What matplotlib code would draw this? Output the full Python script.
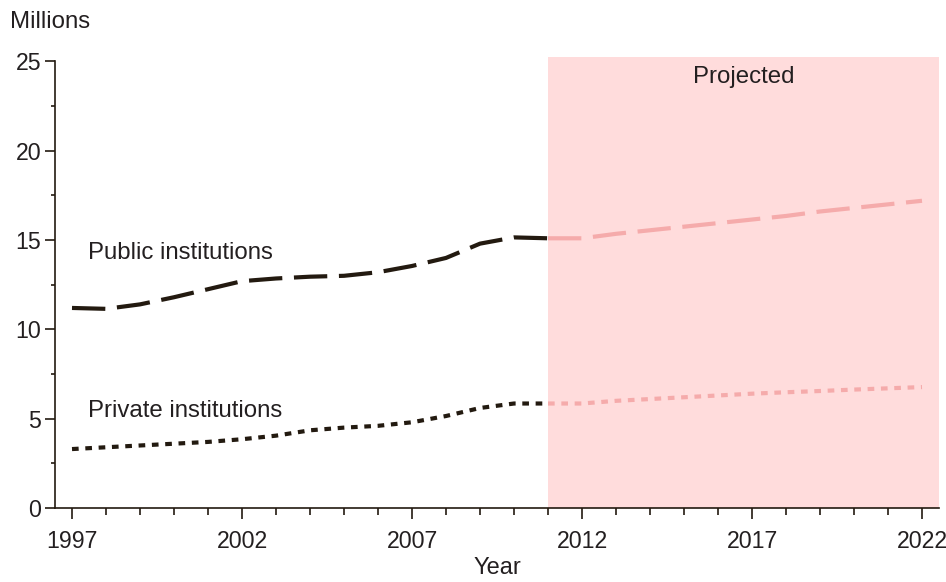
import matplotlib
matplotlib.use("Agg")
import matplotlib.pyplot as plt
from matplotlib.ticker import MultipleLocator, FixedLocator

plt.rcParams['font.family'] = ['Liberation Sans', 'DejaVu Sans']

years = list(range(1997, 2023))
public = [11.2, 11.15, 11.4, 11.8, 12.25, 12.7, 12.85, 12.95, 13.0, 13.2, 13.55, 14.0, 14.8, 15.15,
          15.1, 15.1, 15.35, 15.55, 15.75, 15.95, 16.15, 16.35, 16.6, 16.8, 17.0, 17.2]
private = [3.3, 3.4, 3.5, 3.6, 3.7, 3.85, 4.05, 4.35, 4.5, 4.6, 4.8, 5.15, 5.6, 5.85,
           5.85, 5.85, 6.0, 6.1, 6.2, 6.3, 6.4, 6.48, 6.55, 6.63, 6.7, 6.77]
proj_start = 2011
xtick_labels = [1997, 2002, 2007, 2012, 2017, 2022]

dark = '#231a10'
pink_line = '#f5abab'
pink_fill = '#ffdcdc'
text_c = '#231f20'

fig = plt.figure(figsize=(9.46, 5.82), dpi=100)
ax = fig.add_axes([55/946, (582-508)/582, (939-55)/946, (508-57)/582])

ax.set_xlim(1996.5, 2022.5)
ax.set_ylim(0, 25.25)

ax.axvspan(proj_start, 2022.5, color=pink_fill, lw=0, zorder=0)

i0 = years.index(proj_start)
hist_y = years[:i0 + 1]
proj_y = years[i0:]

lw = 3.0
dash = (8, 2.8)
dot = (1.6, 1.6)
ax.plot(hist_y, public[:i0 + 1], color=dark, lw=lw, dashes=dash, dash_capstyle='butt', zorder=3)
ax.plot(proj_y, public[i0:], color=pink_line, lw=lw, dashes=dash, dash_capstyle='butt', zorder=3)
ax.plot(hist_y, private[:i0 + 1], color=dark, lw=lw, dashes=dot, dash_capstyle='butt', zorder=3)
ax.plot(proj_y, private[i0:], color=pink_line, lw=lw, dashes=dot, dash_capstyle='butt', zorder=3)

for s in ['top', 'right']:
    ax.spines[s].set_visible(False)
for s in ['left', 'bottom']:
    ax.spines[s].set_color(dark)
    ax.spines[s].set_linewidth(1.2)
ax.spines['left'].set_bounds(0, 25)

ax.xaxis.set_major_locator(FixedLocator(xtick_labels))
ax.xaxis.set_minor_locator(MultipleLocator(1))
ax.set_xticklabels([str(v) for v in xtick_labels])
ax.yaxis.set_major_locator(MultipleLocator(5))
ax.yaxis.set_minor_locator(MultipleLocator(2.5))

ax.tick_params(axis='x', which='major', length=8, width=1.2, color=dark, pad=8, labelsize=16.7, labelcolor=text_c)
ax.tick_params(axis='x', which='minor', length=5, width=1.2, color=dark)
ax.tick_params(axis='y', which='major', length=7, width=1.2, color=dark, pad=3, labelsize=16.7, labelcolor=text_c)
ax.tick_params(axis='y', which='minor', length=3, width=1.2, color=dark)

ax.set_xlabel('Year', fontsize=17, color=text_c, labelpad=3)
fig.text(10/946, 1 - 22/582, 'Millions', fontsize=17.3, color=text_c, va='center', ha='left')

ax.text(1997.47, 14.25, 'Public institutions', fontsize=17.3, color=text_c, va='center', ha='left')
ax.text(1997.47, 5.45, 'Private institutions', fontsize=17.3, color=text_c, va='center', ha='left')
ax.text(2016.75, 24.15, 'Projected', fontsize=17.3, color=text_c, va='center', ha='center')

fig.savefig('out.png', dpi=100)
